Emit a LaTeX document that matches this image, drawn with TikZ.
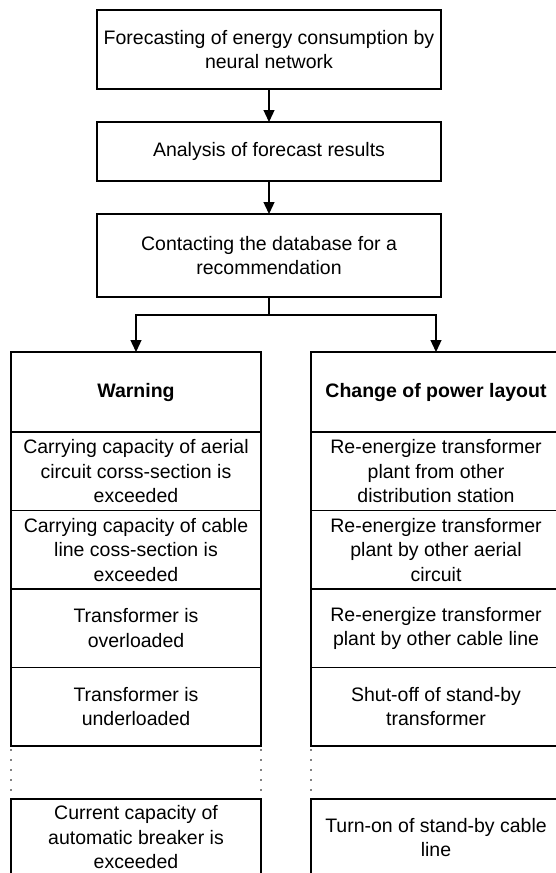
\documentclass[tikz,border=0pt]{standalone}
\usepackage{fontspec}
\setmainfont{Liberation Sans}
\usetikzlibrary{arrows.meta,positioning}

\begin{document}
\begin{tikzpicture}[x=1pt, y=-1pt, >={Triangle[width=11pt,length=12pt]},
    line width=1.3pt,
    every node/.style={font=\fontsize{19.5}{24.5}\selectfont},
    block/.style={draw, align=center, inner sep=0pt, outer sep=0pt, minimum width=344pt},
    cell/.style={draw, align=center, inner sep=0pt, outer sep=0pt, minimum width=250pt, minimum height=78.5pt},
    head/.style={cell, minimum height=80pt, font=\fontsize{19.5}{24.5}\selectfont\bfseries},
    gap/.style={line width=1.8pt, line cap=round, dash pattern=on 0pt off 10pt}
    ]
\useasboundingbox (0,0) rectangle (556,873);
% chain on top
\node[block, minimum height=79pt] (fore) at (269,49.5) {Forecasting of energy consumption by\\neural network};
\node[block, minimum height=59pt] (anal) at (269,151.5) {Analysis of forecast results};
\node[block, minimum height=83pt] (cont) at (269,255.5) {Contacting the database for a\\recommendation};
\coordinate (split) at (269,315);
% Warning column
\node[head] (warn) at (136,392) {Warning};
\node[cell, below=0pt of warn] (warn1) {Carrying capacity of aerial\\circuit corss-section is\\exceeded};
\node[cell, below=0pt of warn1] (warn2) {Carrying capacity of cable\\line coss-section is\\exceeded};
\node[cell, below=0pt of warn2] (warn3) {Transformer is\\overloaded};
\node[cell, below=0pt of warn3] (warn4) {Transformer is\\underloaded};
\node[cell, minimum height=77pt, below=53pt of warn4] (warn5) {Current capacity of\\automatic breaker is\\exceeded};
% layout column
\node[head] (chg) at (436,392) {Change of power layout};
\node[cell, below=0pt of chg] (chg1) {Re-energize transformer\\plant from other\\distribution station};
\node[cell, below=0pt of chg1] (chg2) {Re-energize transformer\\plant by other aerial\\circuit};
\node[cell, below=0pt of chg2] (chg3) {Re-energize transformer\\plant by other cable line};
\node[cell, below=0pt of chg3] (chg4) {Shut-off of stand-by\\transformer};
\node[cell, minimum height=77pt, below=53pt of chg4] (chg5) {Turn-on of stand-by cable\\line};
% arrows
\draw[->] (fore) -- (anal);
\draw[->] (anal) -- (cont);
\draw (cont.south) -- (split);
\draw[->] (split) -| (warn.north);
\draw[->] (split) -| (chg.north);
% gaps
\draw[gap] ([yshift=-4pt]warn4.south west) -- ([yshift=7pt]warn5.north west);
\draw[gap] ([yshift=-4pt]warn4.south east) -- ([yshift=7pt]warn5.north east);
\draw[gap] ([yshift=-4pt]chg4.south west) -- ([yshift=7pt]chg5.north west);
\end{tikzpicture}
\end{document}
